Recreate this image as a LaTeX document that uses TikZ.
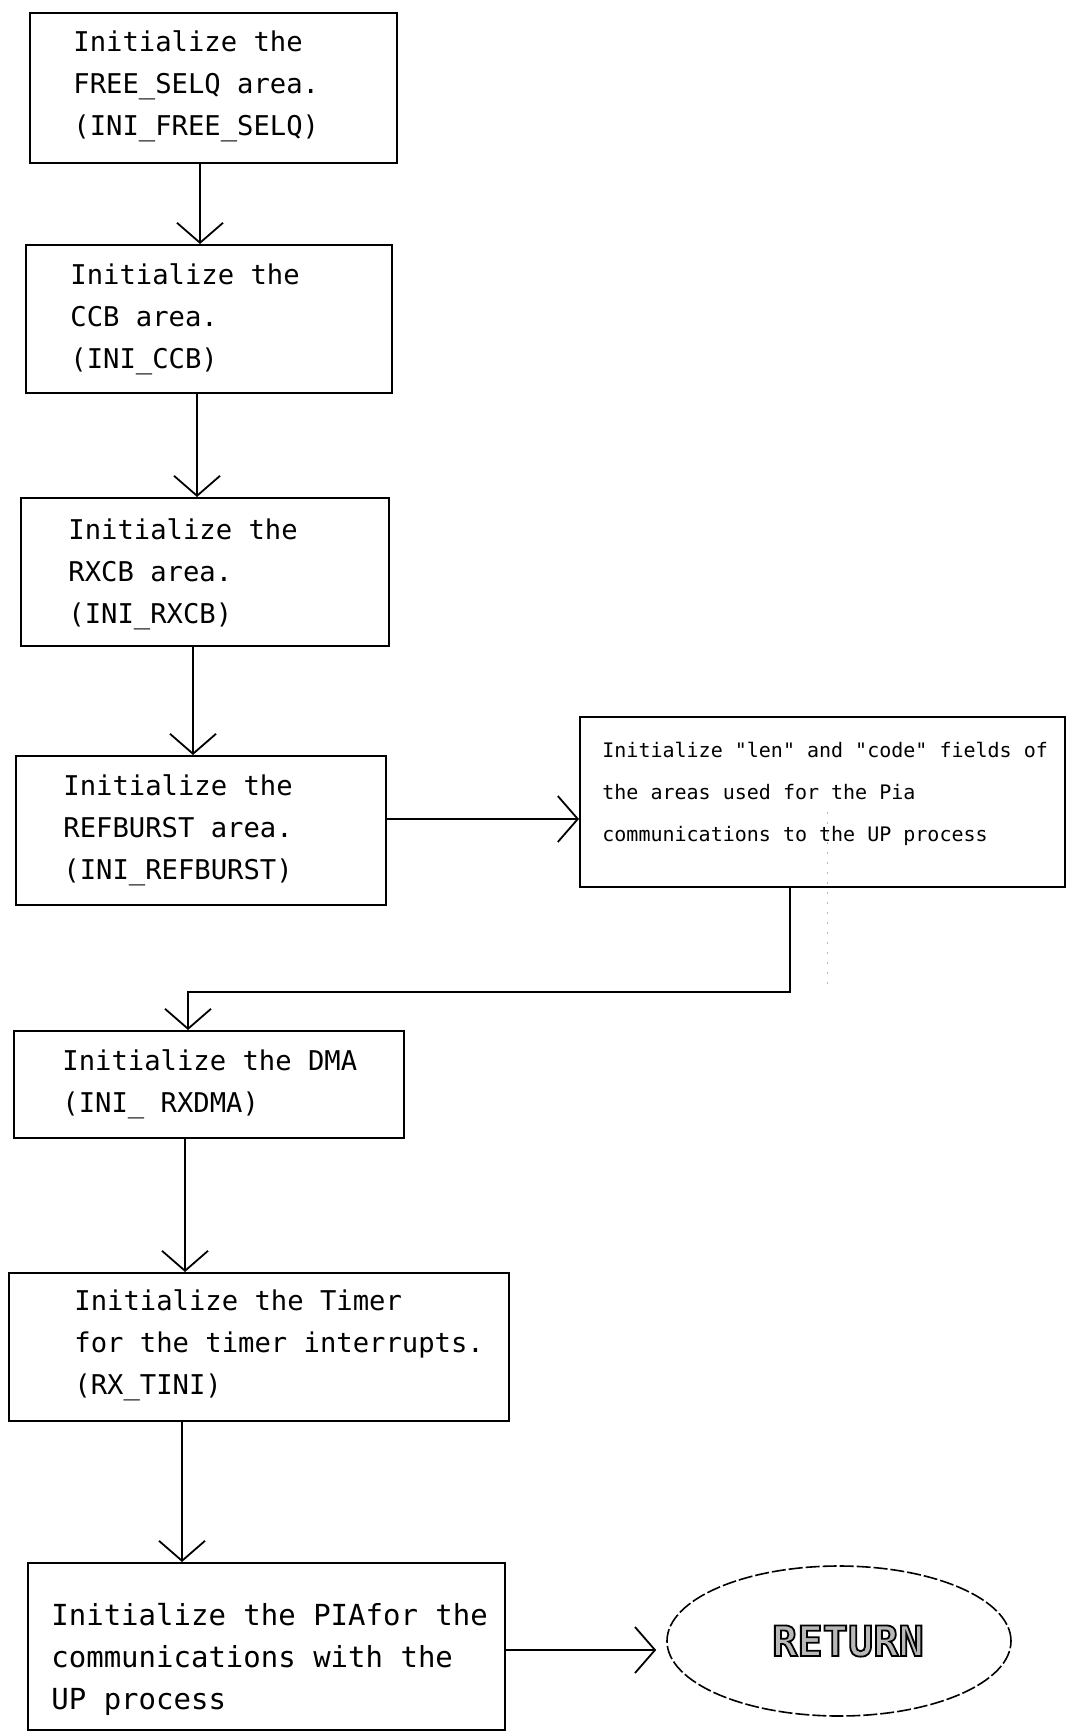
\documentclass[tikz,border=0pt]{standalone}
\usepackage{fontspec}
\usetikzlibrary{arrows.meta,shapes.geometric}
\newfontfamily\plotfont{DejaVu Sans Mono}
\definecolor{retfill}{gray}{0.72}
% outlined lettering: stroke black around a grey fill
\newcommand{\outlinedtext}[1]{{\color{retfill}%
  \special{pdf:literal direct 2 Tr 0.9 w 0 G}#1\special{pdf:literal direct 0 Tr}}}

\begin{document}
\begin{tikzpicture}[x=0.5pt,y=-0.5pt,
  stepbox/.style={draw, line width=0.9pt, rectangle, anchor=north west, inner sep=0pt},
  steptext/.style={anchor=west, align=left, inner sep=0pt,
    font=\plotfont\fontsize{13.6}{21}\selectfont},
  notetext/.style={anchor=west, align=left, inner sep=0pt,
    font=\plotfont\fontsize{10}{21}\selectfont},
  flow/.style={draw, line width=0.9pt,
    -{Straight Barb[length=10pt,width=23pt,line width=0.9pt]}},
]
\useasboundingbox (0,0) rectangle (1066,1731);

% processing steps
\node[stepbox, minimum width=183.5pt, minimum height=75pt] (b1) at (29,12) {};
\node[steptext] (t1) at ([xshift=22pt,yshift=1pt]b1.west)
  {Initialize the\\FREE\_SELQ area.\\(INI\_FREE\_SELQ)};

\node[stepbox, minimum width=183pt, minimum height=74pt] (b2) at (25,244) {};
\node[steptext] (t2) at ([xshift=22.5pt]b2.west)
  {Initialize the\\CCB area.\\(INI\_CCB)};

\node[stepbox, minimum width=184pt, minimum height=74pt] (b3) at (20,497) {};
\node[steptext] (t3) at ([xshift=24pt,yshift=-1pt]b3.west)
  {Initialize the\\RXCB area.\\(INI\_RXCB)};

\node[stepbox, minimum width=185pt, minimum height=74.5pt] (b4) at (15,755) {};
\node[steptext] (t4) at ([xshift=24pt]b4.west)
  {Initialize the\\REFBURST area.\\(INI\_REFBURST)};

\node[stepbox, minimum width=242.5pt, minimum height=85pt] (rb) at (579,716) {};
\node[notetext] (trb) at ([xshift=11.5pt,yshift=4pt]rb.west)
  {Initialize "len" and "code" fields of\\the areas used for the Pia\\communications to the UP process};

\node[stepbox, minimum width=195pt, minimum height=53.5pt] (b5) at (13,1030) {};
\node[steptext] (t5) at ([xshift=24.5pt]b5.west)
  {Initialize the DMA\\(INI\_ RXDMA)};

\node[stepbox, minimum width=250pt, minimum height=74pt] (b6) at (8,1272) {};
\node[steptext] (t6) at ([xshift=33pt,yshift=1pt]b6.west)
  {Initialize the Timer\\for the timer interrupts.\\(RX\_TINI)};

\node[stepbox, minimum width=238.5pt, minimum height=83.5pt] (b7) at (27,1562) {};
\node[steptext, font=\plotfont\fontsize{14.5}{21}\selectfont] (t7) at ([xshift=12pt,yshift=-6.5pt]b7.west)
  {Initialize the PIAfor the\\communications with the\\UP process};

% terminal
\node[draw, ellipse, line width=0.8pt, dash pattern=on 7pt off 1.5pt,
  minimum width=172pt, minimum height=75pt, inner sep=0pt] (ret) at (839,1641) {};
\node[inner sep=0pt, font=\plotfont\bfseries\fontsize{21}{21}\selectfont] (rettext) at (848,1641)
  {\outlinedtext{RETURN}};

% connectors
\coordinate (c12) at (200,0);
\coordinate (c23) at (197,0);
\coordinate (c34) at (193,0);
\coordinate (c56) at (185,0);
\coordinate (c67) at (182,0);
\coordinate (c4r) at (0,819);
\coordinate (c7e) at (0,1650);
\coordinate (bendA) at (790,992);
\coordinate (bendB) at (188,992);

\draw[flow] (c12 |- b1.south) -- (c12 |- b2.north);
\draw[flow] (c23 |- b2.south) -- (c23 |- b3.north);
\draw[flow] (c34 |- b3.south) -- (c34 |- b4.north);
\draw[flow] (b4.east |- c4r) -- (rb.west |- c4r);
\draw[flow] (bendA |- rb.south) -- (bendA) -- (bendB) -- (bendB |- b5.north);
\draw[flow] (c56 |- b5.south) -- (c56 |- b6.north);
\draw[flow] (c67 |- b6.south) -- (c67 |- b7.north);
\draw[flow, shorten >=5pt] (b7.east |- c7e) -- (ret.west |- c7e);

% faint dotted trace beside the note box
\draw[gray!55, line width=0.5pt, dash pattern=on 1pt off 4pt] (827,812) -- (827,985);
\end{tikzpicture}
\end{document}
